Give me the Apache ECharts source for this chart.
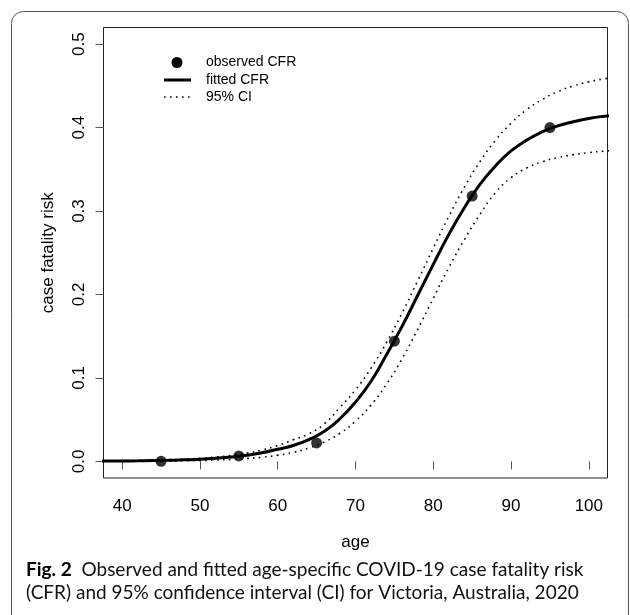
<!DOCTYPE html>
<html>
<head>
<meta charset="utf-8">
<script src="https://cdn.jsdelivr.net/npm/echarts@6/dist/echarts.min.js"></script>
<style>
html,body{margin:0;padding:0;background:#fff;}
#c{width:630px;height:615px;}
</style>
</head>
<body>
<div id="c"></div>
<script>
// ---- data ----
const curveAges = [36,38,40,42,44,46,48,50,52,54,56,58,60,62,64,66,68,70,72,74,76,78,80,82,84,86,88,90,92,94,96,98,100,102,104];
const fittedCFR = [0.0002,0.0003,0.0004,0.0006,0.0009,0.0012,0.0018,0.0025,0.0036,0.0051,0.0072,0.0103,0.0145,0.019,0.026,0.036,0.051,0.071,0.096,0.128,0.162,0.199,0.236,0.272,0.304,0.332,0.354,0.372,0.385,0.395,0.402,0.407,0.411,0.4137,0.4156];
const upperCI = [0.0004,0.0005,0.0007,0.001,0.0013,0.0019,0.0026,0.0036,0.0051,0.007,0.0098,0.0136,0.0188,0.0259,0.033,0.045,0.0646,0.0857,0.1117,0.1427,0.178,0.2164,0.2556,0.2936,0.3286,0.3592,0.3847,0.4052,0.4214,0.4337,0.443,0.4498,0.4549,0.4585,0.461];
const lowerCI = [0.0001,0.0001,0.0001,0.0002,0.0003,0.0005,0.0007,0.001,0.0015,0.0022,0.0033,0.0049,0.0073,0.0108,0.0159,0.0232,0.0336,0.0481,0.0675,0.0926,0.1231,0.1582,0.1955,0.2323,0.2658,0.296,0.322,0.34,0.3515,0.359,0.364,0.3675,0.37,0.3718,0.373];
const observedAges = [45,55,65,75,85,95];
const observedCFR = [0.0,0.0065,0.022,0.144,0.318,0.400];
const xTicks = [40,50,60,70,80,90,100];
const yTicks = [0,0.1,0.2,0.3,0.4,0.5];
const legendLabels = ['observed CFR','fitted CFR','95% CI'];
const xTitle = 'age';
const yTitle = 'case fatality risk';
const captionBold = 'Fig. 2';
const captionLine1 = 'Observed and fitted age-specific COVID-19 case fatality risk';
const captionLine2 = '(CFR) and 95% confidence interval (CI) for Victoria, Australia, 2020';

const pair = (xs, ys) => xs.map((x, i) => [x, ys[i]]);
const FONT = '"Liberation Sans", Arial, Helvetica, sans-serif';
const CAPFONT = 'Lato, "Noto Sans", sans-serif';

const chart = echarts.init(document.getElementById('c'), null, {renderer: 'canvas'});
chart.setOption({
  animation: false,
  backgroundColor: '#ffffff',
  grid: {left: 103.5, right: 22.5, top: 27.5, bottom: 137, containLabel: false, outerBoundsMode: 'none',
         show: true, borderColor: '#222', borderWidth: 1, backgroundColor: 'transparent'},
  xAxis: {
    type: 'value', min: 37.6, max: 102.4,
    name: xTitle, nameLocation: 'middle', nameGap: 56,
    nameTextStyle: {fontFamily: FONT, fontSize: 17, color: '#000'},
    axisLine: {show: false},
    splitLine: {show: false},
    axisTick: {show: true, length: 8, customValues: xTicks, lineStyle: {color: '#555', width: 1}},
    axisLabel: {customValues: xTicks, margin: 20, fontFamily: FONT, fontSize: 17, color: '#000'}
  },
  yAxis: {
    type: 'value', min: -0.02, max: 0.52,
    name: yTitle, nameLocation: 'middle', nameGap: 47, nameRotate: 90,
    nameTextStyle: {fontFamily: FONT, fontSize: 17, color: '#000'},
    axisLine: {show: false},
    splitLine: {show: false},
    axisTick: {show: true, length: 8, customValues: yTicks, lineStyle: {color: '#555', width: 1}},
    axisLabel: {customValues: yTicks, rotate: 90, margin: 16, fontFamily: FONT, fontSize: 17, color: '#000',
                formatter: v => v.toFixed(1)}
  },
  series: [
    {name: '95% CI', type: 'line', data: pair(curveAges, upperCI), smooth: true, showSymbol: false, symbol: 'none',
     clip: true, lineStyle: {color: '#000', width: 1.6, type: [1.6, 4.4]}, z: 2},
    {name: '95% CI', type: 'line', data: pair(curveAges, lowerCI), smooth: true, showSymbol: false, symbol: 'none',
     clip: true, lineStyle: {color: '#000', width: 1.6, type: [1.6, 4.4]}, z: 2},
    {name: 'fitted CFR', type: 'line', data: pair(curveAges, fittedCFR), smooth: true, showSymbol: false, symbol: 'none',
     clip: true, lineStyle: {color: '#000', width: 3}, z: 3},
    {name: 'observed CFR', type: 'scatter', data: pair(observedAges, observedCFR), symbol: 'circle', symbolSize: 11,
     itemStyle: {color: '#000'}, z: 4}
  ],
  graphic: [
    {type: 'rect', shape: {x: 11.5, y: 11.5, width: 617, height: 640, r: 12}, style: {fill: 'none', stroke: '#555', lineWidth: 1}, z: 1},
    {type: 'circle', shape: {cx: 177, cy: 62.5, r: 5.5}, style: {fill: '#000'}, z: 10},
    {type: 'line', shape: {x1: 164, y1: 80, x2: 191, y2: 80}, style: {stroke: '#000', lineWidth: 3}, z: 10},
    {type: 'line', shape: {x1: 164, y1: 97, x2: 191, y2: 97}, style: {stroke: '#000', lineWidth: 1.6, lineDash: [1.6, 4.4]}, z: 10},
    {type: 'text', x: 206, y: 62.5, style: {text: legendLabels[0], font: '14px ' + FONT, fill: '#000', verticalAlign: 'middle'}, z: 10},
    {type: 'text', x: 206, y: 80, style: {text: legendLabels[1], font: '14px ' + FONT, fill: '#000', verticalAlign: 'middle'}, z: 10},
    {type: 'text', x: 206, y: 97, style: {text: legendLabels[2], font: '14px ' + FONT, fill: '#000', verticalAlign: 'middle'}, z: 10},
    {type: 'text', x: 26, y: 570, style: {
      text: '{b|' + captionBold + '}{n|  ' + captionLine1 + '}',
      rich: {b: {fontFamily: CAPFONT, fontWeight: 'bold', fontSize: 19, fill: '#000'},
             n: {fontFamily: CAPFONT, fontSize: 19, fill: '#111'}},
      verticalAlign: 'middle'}, z: 10},
    {type: 'text', x: 26, y: 593, style: {text: captionLine2, font: '19px ' + CAPFONT, fill: '#111', verticalAlign: 'middle'}, z: 10}
  ]
});
</script>
</body>
</html>
